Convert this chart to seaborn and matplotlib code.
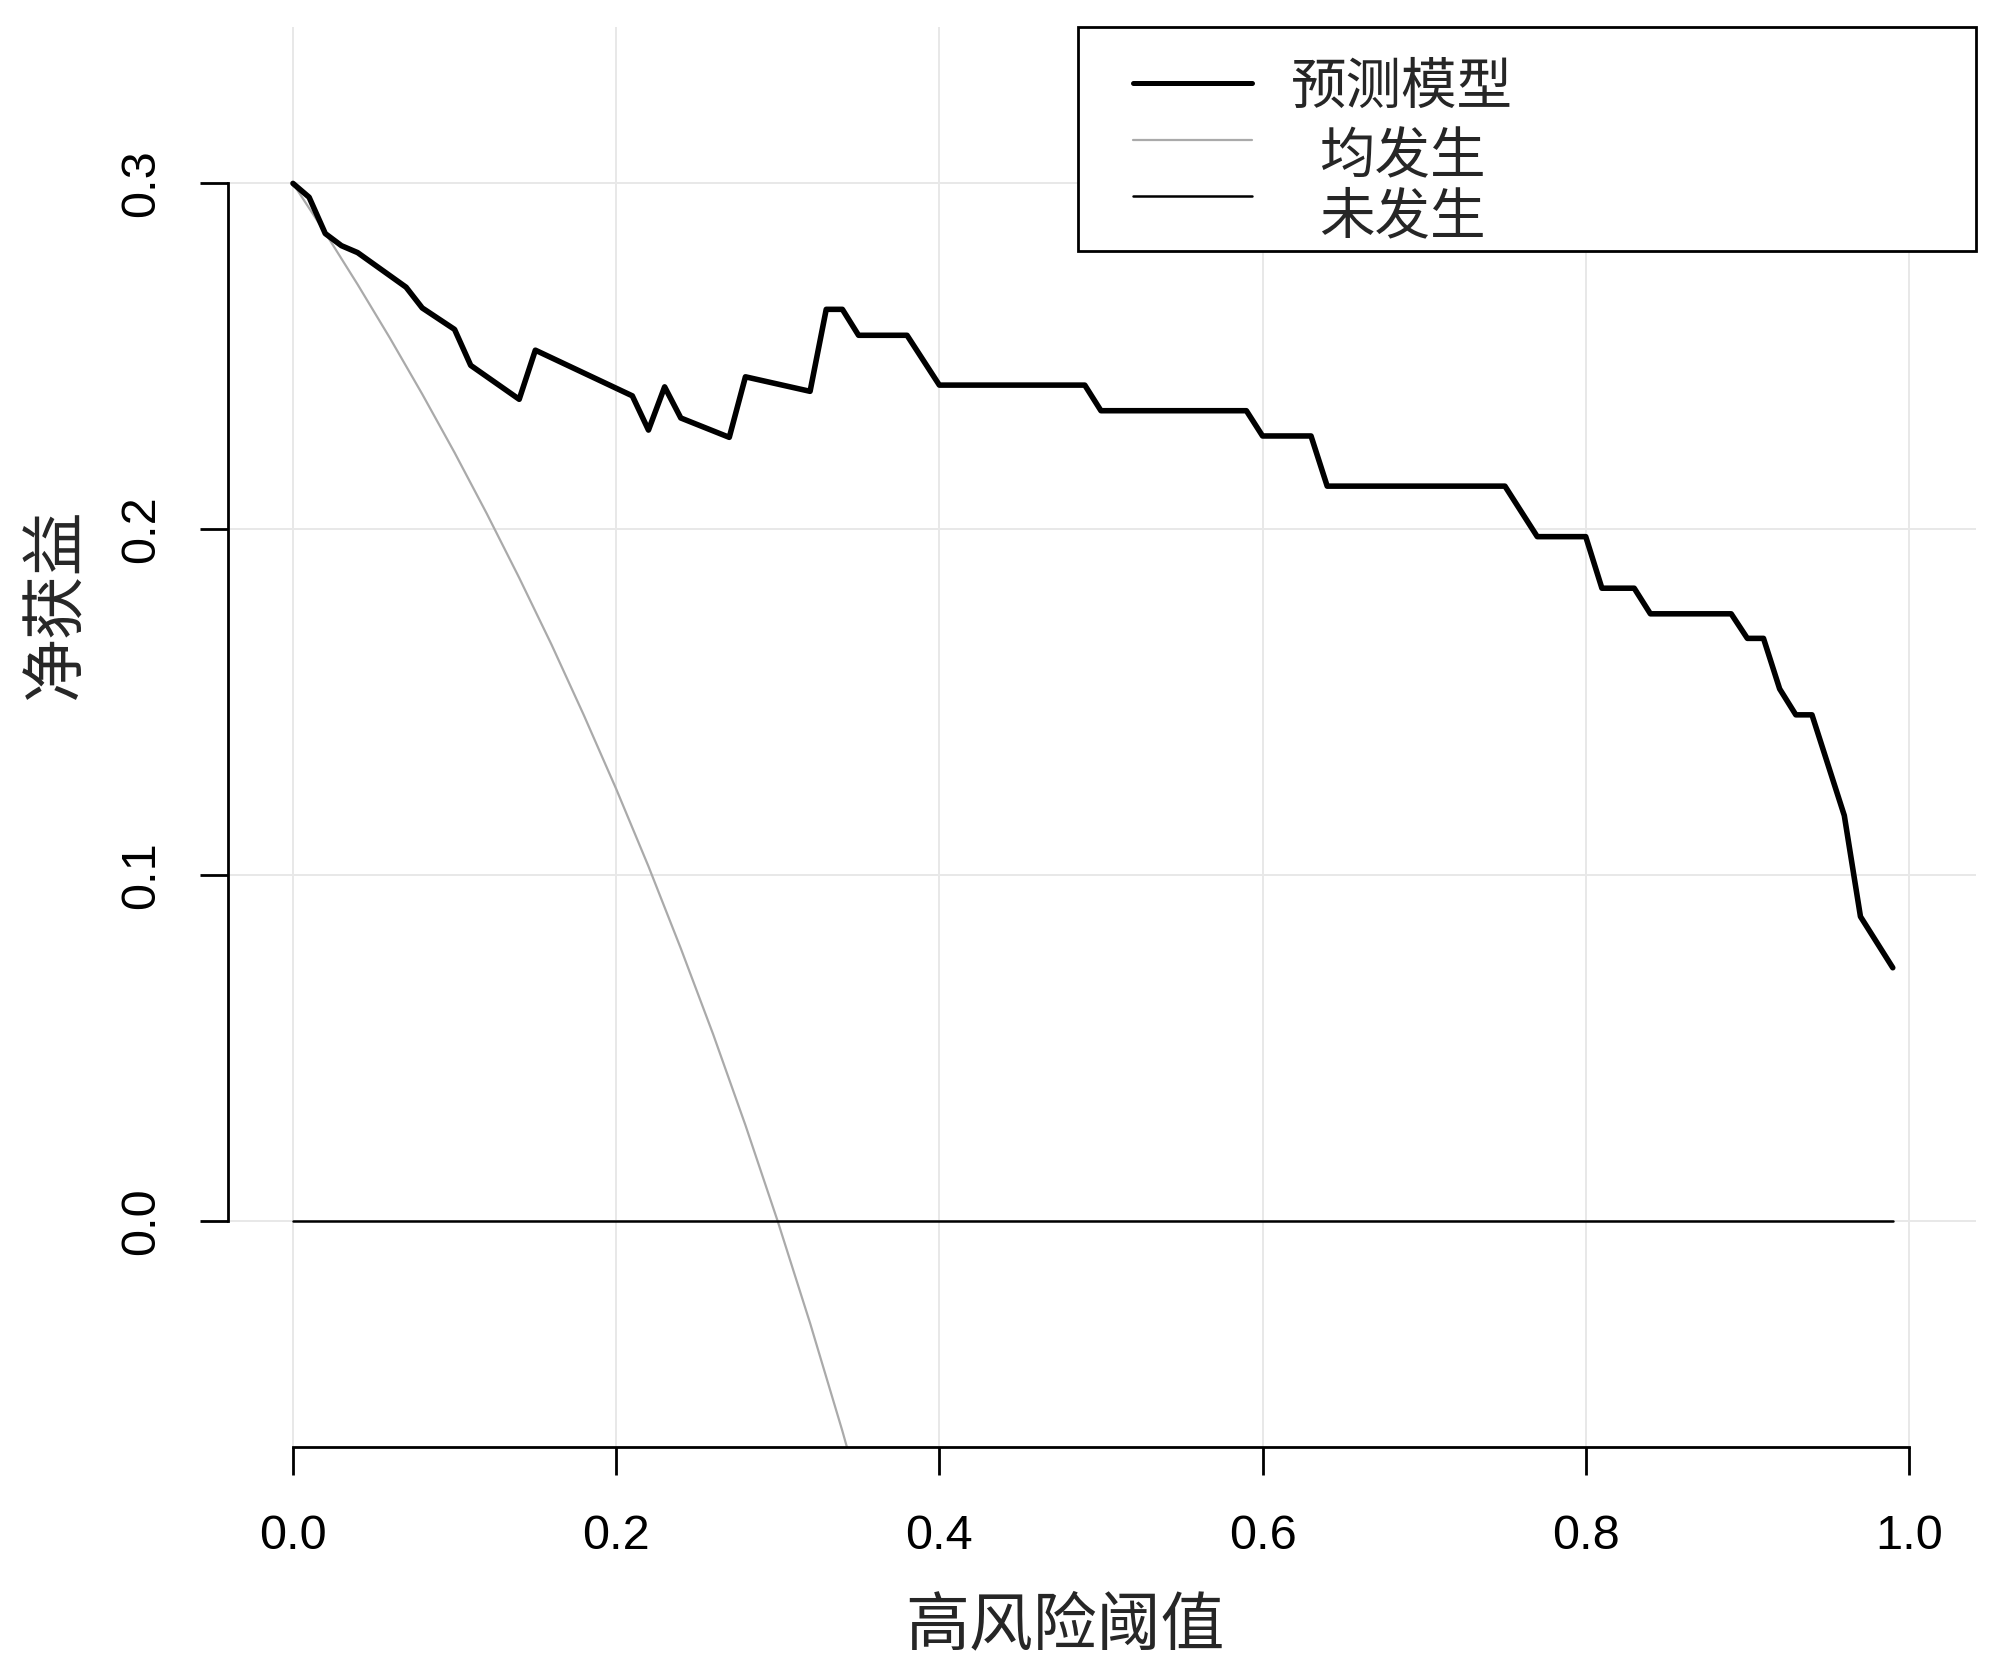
import numpy as np
import pandas as pd
import seaborn as sns
import matplotlib
matplotlib.use("Agg")
import matplotlib.pyplot as plt
from matplotlib.patches import Rectangle
from matplotlib.lines import Line2D

# decision curve (vertices of the model curve)
model_t = [0.00, 0.01, 0.02, 0.03, 0.04, 0.07, 0.08, 0.10, 0.11, 0.14, 0.15,
           0.21, 0.22, 0.23, 0.24, 0.27, 0.28, 0.32, 0.33, 0.34, 0.35, 0.38,
           0.40, 0.49, 0.50, 0.59, 0.60, 0.63, 0.64, 0.75, 0.77, 0.80, 0.81,
           0.83, 0.84, 0.89, 0.90, 0.91, 0.92, 0.93, 0.94, 0.96, 0.97, 0.99]
model_nb = [0.300, 0.296, 0.2855, 0.282, 0.280, 0.270, 0.264, 0.2578, 0.2474,
            0.2376, 0.2518, 0.2386, 0.2287, 0.2412, 0.2322, 0.2266, 0.2441,
            0.2399, 0.2636, 0.2636, 0.2561, 0.2561, 0.2417, 0.2417, 0.2343,
            0.2343, 0.2270, 0.2270, 0.2125, 0.2125, 0.1979, 0.1979, 0.1830,
            0.1830, 0.1756, 0.1756, 0.1685, 0.1685, 0.1539, 0.1464, 0.1464,
            0.1173, 0.0881, 0.0733]

all_t = [0.00, 0.02, 0.04, 0.06, 0.08, 0.10, 0.12, 0.14, 0.16, 0.18, 0.20,
         0.22, 0.24, 0.26, 0.28, 0.30, 0.32, 0.34, 0.36]
all_nb = [0.300, 0.2857, 0.2708, 0.2553, 0.2391, 0.2222, 0.2045, 0.1860,
          0.1667, 0.1463, 0.125, 0.1026, 0.0789, 0.0541, 0.0278, 0.0,
          -0.0294, -0.0606, -0.0938]

none_t = [0.00, 0.99]
none_nb = [0.0, 0.0]

labels = ["预测模型", "均发生", "未发生"]
x_ticks = [0.0, 0.2, 0.4, 0.6, 0.8, 1.0]
y_ticks = [0.0, 0.1, 0.2, 0.3]

df_model = pd.DataFrame({"t": model_t, "nb": model_nb})
df_all = pd.DataFrame({"t": all_t, "nb": all_nb})
df_none = pd.DataFrame({"t": none_t, "nb": none_nb})

sns.set_style("white")
plt.rcParams['font.family'] = ['Liberation Sans', 'Noto Sans CJK SC', 'DejaVu Sans']
cjk = ['Noto Sans CJK SC', 'DejaVu Sans']

fig = plt.figure(figsize=(10, 8.39), dpi=200)
ax = fig.add_axes([0.114, 0.1377, 0.874, 0.8462])

grey = "#aaaaaa"
sns.lineplot(data=df_all, x="t", y="nb", ax=ax, color=grey, linewidth=0.8,
             estimator=None, zorder=2)
sns.lineplot(data=df_none, x="t", y="nb", ax=ax, color="black", linewidth=0.9,
             estimator=None, zorder=3)
sns.lineplot(data=df_model, x="t", y="nb", ax=ax, color="black", linewidth=2.0,
             estimator=None, zorder=4)

ax.set_xlim(-0.0402, 1.0415)
ax.set_ylim(-0.0652, 0.3452)
ax.set_xticks(x_ticks)
ax.set_yticks(y_ticks)
ax.set_xticklabels(["%.1f" % v for v in x_ticks])
ax.set_yticklabels(["%.1f" % v for v in y_ticks])
ax.grid(True, color="#e8e8e8", linewidth=0.7, zorder=0)
ax.set_axisbelow(True)

for s in ["top", "right"]:
    ax.spines[s].set_visible(False)
ax.spines["left"].set_bounds(0, 0.3)
ax.spines["bottom"].set_bounds(0, 1)
for s in ["left", "bottom"]:
    ax.spines[s].set_linewidth(1.0)
    ax.spines[s].set_color("black")

ax.tick_params(axis="both", direction="out", length=10, width=1.0,
               color="black", labelsize=17.5, labelcolor="black",
               bottom=True, left=True)
ax.tick_params(axis="x", pad=14)
ax.tick_params(axis="y", pad=13)
plt.setp(ax.get_yticklabels(), rotation=90, va="center")

ax.set_xlabel("")
ax.set_ylabel("")
ax.text(0.479, -0.126, "高风险阈值", transform=ax.transAxes, ha="center",
        va="center", fontsize=23, family=cjk)
ax.text(-0.098, 0.594, "净获益", transform=ax.transAxes, ha="center",
        va="center", fontsize=23, rotation=90, family=cjk)

# legend box, drawn like R's legend()
ax.add_patch(Rectangle((0.486, 0.842), 0.514, 0.158, transform=ax.transAxes,
                       facecolor="white", edgecolor="black", linewidth=1.0,
                       clip_on=False, zorder=6))
leg_y = [0.9606, 0.9204, 0.881]
txt_y = [0.957, 0.908, 0.866]
styles = [("black", 1.8), (grey, 0.8), ("black", 0.9)]
for (c, lw), ly, ty, lab in zip(styles, leg_y, txt_y, labels):
    ax.add_line(Line2D([0.518, 0.586], [ly, ly], transform=ax.transAxes,
                       color=c, linewidth=lw, clip_on=False, zorder=7))
    ax.text(0.6716, ty, lab, transform=ax.transAxes, ha="center", va="center",
            fontsize=20, family=cjk, zorder=7)

fig.savefig("out.png", dpi=200, facecolor="white")
